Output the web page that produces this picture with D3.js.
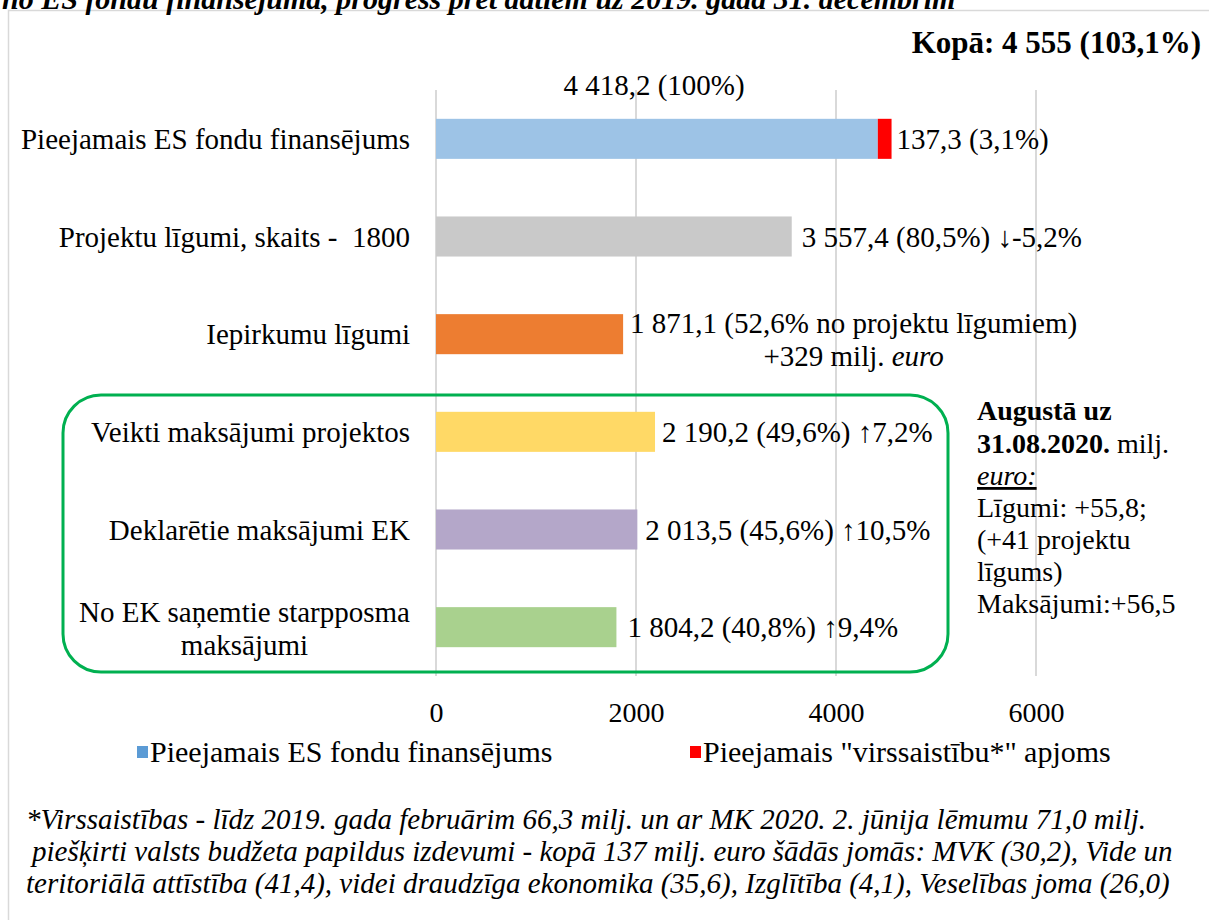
<!DOCTYPE html>
<html>
<head>
<meta charset="utf-8">
<script src="https://cdn.jsdelivr.net/npm/d3@7"></script>
<style>
  body { margin: 0; background: #fff; }
  svg text { font-family: "Liberation Serif", "Times New Roman", serif; fill: #000; }
</style>
</head>
<body>
<div class="chart"></div>
<script>
// ------------------------------------------------------------------
// Data
var categories = [
  "Pieejamais ES fondu finansējums",
  "Projektu līgumi, skaits -  1800",
  "Iepirkumu līgumi",
  "Veikti maksājumi projektos",
  "Deklarētie maksājumi EK",
  "No EK saņemtie starpposma|maksājumi"
];
var baseValues  = [4418.2, 3557.4, 1871.1, 2190.2, 2013.5, 1804.2];
var extraValues = [137.3, 0, 0, 0, 0, 0];
var barColors   = ["#9dc3e6", "#c9c9c9", "#ed7d31", "#ffd966", "#b4a7c9", "#a9d18e"];
var valueLabels = [
  "137,3 (3,1%)",
  "3 557,4 (80,5%) ↓-5,2%",
  "1 871,1 (52,6% no projektu līgumiem)",
  "2 190,2 (49,6%) ↑7,2%",
  "2 013,5 (45,6%) ↑10,5%",
  "1 804,2 (40,8%) ↑9,4%"
];
var xTicks = [0, 2000, 4000, 6000];
var legendNames  = ["Pieejamais ES fondu finansējums", "Pieejamais \"virssaistību*\" apjoms"];
var legendColors = ["#5b9bd5", "#ff0000"];
var footnote = [
  "*Virssaistības - līdz 2019. gada februārim 66,3 milj. un ar MK 2020. 2. jūnija lēmumu 71,0 milj.",
  "piešķirti valsts budžeta papildus izdevumi - kopā 137 milj. euro šādās jomās: MVK (30,2), Vide un",
  "teritoriālā attīstība (41,4), videi draudzīga ekonomika (35,6), Izglītība (4,1), Veselības joma (26,0)"
];
var sideNote = ["Līgumi: +55,8;", "(+41 projektu", "līgums)", "Maksājumi:+56,5"];

// ------------------------------------------------------------------
var width = 1209, height = 920;
var FS = "29px";
var svg = d3.select(".chart").append("svg")
  .attr("width", width)
  .attr("height", height);

// chart border
svg.append("rect")
  .attr("x", 8.5).attr("y", 10.5)
  .attr("width", 1240).attr("height", 960)
  .attr("fill", "none").attr("stroke", "#d9d9d9").attr("stroke-width", 1.5);

// cut title at top (only lower part visible)
svg.append("text")
  .attr("x", 2).attr("y", 9)
  .style("font-size", "30px").style("font-style", "italic").style("font-weight", "bold")
  .text("no ES fondu finansējuma, progress pret datiem uz 2019. gada 31. decembrim");

var x = d3.scaleLinear().domain([0, 6000]).range([436, 1036]);
var y = d3.scaleBand().domain(categories).range([90, 676])
  .paddingInner(0.59).paddingOuter(0.295);

// gridlines
svg.append("g").selectAll("line")
  .data(xTicks).enter().append("line")
  .attr("x1", function(d) { return x(d); })
  .attr("x2", function(d) { return x(d); })
  .attr("y1", 90).attr("y2", 676)
  .attr("stroke", "#d9d9d9").attr("stroke-width", 2);

// axis labels
var xAxis = d3.axisBottom(x).tickValues(xTicks).tickSize(0).tickPadding(0).tickFormat(d3.format("d"));
var ax = svg.append("g").attr("transform", "translate(0,722)").call(xAxis);
ax.select(".domain").remove();
ax.selectAll("text").style("font-size", "28px").attr("y", 0).attr("dy", 0)
  .style("font-family", "'Liberation Serif', serif");

// bars
svg.append("g").selectAll("rect")
  .data(categories).enter().append("rect")
  .attr("x", x(0))
  .attr("y", function(d) { return y(d); })
  .attr("width", function(d, i) { return x(baseValues[i]) - x(0); })
  .attr("height", y.bandwidth())
  .attr("fill", function(d, i) { return barColors[i]; });

svg.append("g").selectAll("rect")
  .data(categories.filter(function(d, i) { return extraValues[i] > 0; })).enter().append("rect")
  .attr("x", function(d) { var i = categories.indexOf(d); return x(baseValues[i]); })
  .attr("y", function(d) { return y(d); })
  .attr("width", function(d) { var i = categories.indexOf(d); return x(baseValues[i] + extraValues[i]) - x(baseValues[i]); })
  .attr("height", y.bandwidth())
  .attr("fill", "#ff0000");

// category labels
categories.forEach(function(c, i) {
  var cy = y(c) + y.bandwidth() / 2;
  var lines = c.split("|");
  if (lines.length == 1) {
    svg.append("text").attr("x", 410).attr("y", cy + 10)
      .attr("text-anchor", "end").style("font-size", FS).style("white-space", "pre").text(c);
  } else {
    var t = svg.append("text").attr("text-anchor", "middle").style("font-size", FS);
    var tmp = svg.append("text").style("font-size", FS).text(lines[0]);
    var w = tmp.node().getComputedTextLength();
    tmp.remove();
    lines.forEach(function(l, k) {
      t.append("tspan").attr("x", 410 - w / 2).attr("y", cy - 5 + k * 33).text(l);
    });
  }
});

// value labels
var labelGap = [5, 10, 7, 7, 8, 11];
categories.forEach(function(c, i) {
  var cy = y(c) + y.bandwidth() / 2;
  var endX = x(baseValues[i] + extraValues[i]);
  if (i == 2) {
    var t = svg.append("text").attr("text-anchor", "middle").style("font-size", FS);
    var tmp = svg.append("text").style("font-size", FS).text(valueLabels[i]);
    var w = tmp.node().getComputedTextLength();
    tmp.remove();
    var mid = endX + labelGap[i] + w / 2;
    t.append("tspan").attr("x", mid).attr("y", cy - 1).text(valueLabels[i]);
    t.append("tspan").attr("x", mid).attr("y", cy + 32).text("+329 milj. ");
    t.append("tspan").style("font-style", "italic").text("euro");
  } else {
    svg.append("text").attr("x", endX + labelGap[i]).attr("y", cy + 10)
      .style("font-size", FS).text(valueLabels[i]);
  }
});

// total labels
svg.append("text").attr("x", 1201).attr("y", 53).attr("text-anchor", "end")
  .style("font-size", "31px").style("font-weight", "bold").text("Kopā: 4 555 (103,1%)");
svg.append("text").attr("x", 654).attr("y", 95).attr("text-anchor", "middle")
  .style("font-size", FS).text("4 418,2 (100%)");

// green frame
svg.append("rect")
  .attr("x", 63).attr("y", 395).attr("width", 885).attr("height", 277)
  .attr("rx", 38).attr("ry", 38)
  .attr("fill", "none").attr("stroke", "#00b050").attr("stroke-width", 3);

// side note
var sn = svg.append("text").style("font-size", "28px");
sn.append("tspan").attr("x", 977).attr("y", 420).style("font-weight", "bold").text("Augustā uz");
sn.append("tspan").attr("x", 977).attr("y", 453).style("font-weight", "bold").text("31.08.2020.");
sn.append("tspan").text(" milj.");
sn.append("tspan").attr("x", 977).attr("y", 485).style("font-style", "italic")
  .style("text-decoration", "underline").text("euro:");
sideNote.forEach(function(l, k) {
  sn.append("tspan").attr("x", 977).attr("y", 517 + k * 32).text(l);
});

// legend
var lx = [137, 690];
legendNames.forEach(function(n, i) {
  svg.append("rect").attr("x", lx[i]).attr("y", 746).attr("width", 11).attr("height", 12)
    .attr("fill", legendColors[i]);
  svg.append("text").attr("x", lx[i] + 13).attr("y", 762).style("font-size", "30px").text(n);
});

// footnote
var fx = [26, 32, 26];
footnote.forEach(function(l, k) {
  svg.append("text").attr("x", fx[k]).attr("y", 829 + k * 32)
    .style("font-size", FS).style("font-style", "italic").text(l);
});
</script>
</body>
</html>
